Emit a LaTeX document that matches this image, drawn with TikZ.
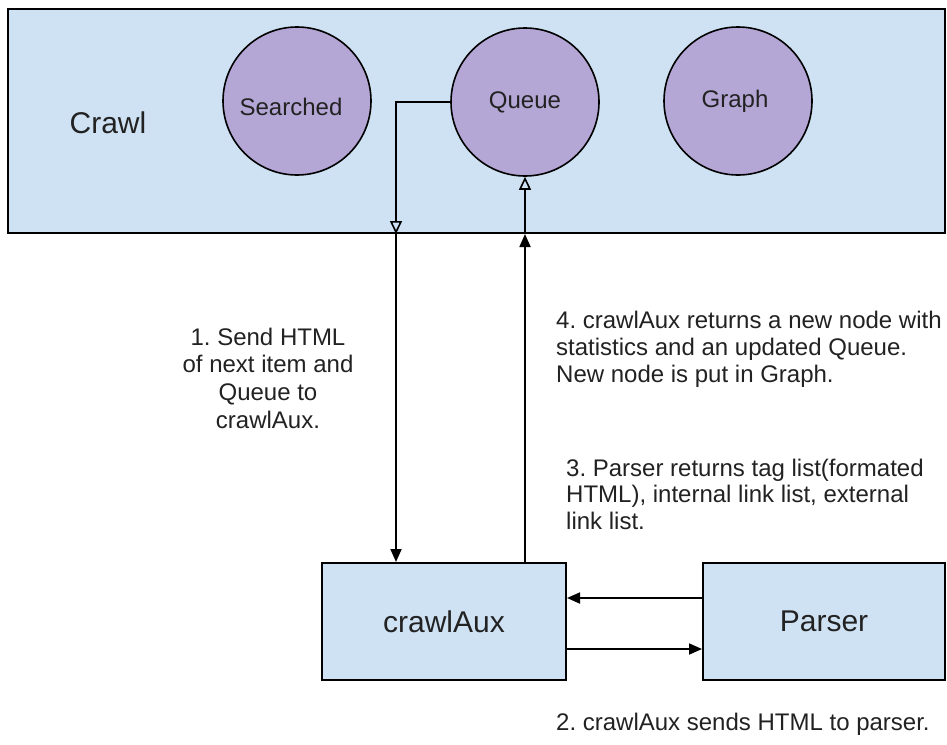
\documentclass[tikz,border=0pt]{standalone}
\usepackage{fontspec}
\setmainfont{Liberation Sans}
\usetikzlibrary{arrows.meta}
\definecolor{boxblue}{HTML}{CFE2F3}
\definecolor{circpurple}{HTML}{B4A7D6}
\definecolor{txt}{HTML}{222222}
\begin{document}
\frenchspacing
\begin{tikzpicture}[x=1pt,y=-1pt,
  bluebox/.style={draw, line width=2pt, fill=boxblue, inner sep=0pt, text=txt, font=\fontsize{30}{36}\selectfont},
  purplecirc/.style={circle, draw, line width=1.6pt, fill=circpurple, minimum size=148pt, inner sep=0pt, text=txt, font=\fontsize{24}{28}\selectfont},
  conn/.style={line width=1.8pt},
  solidtip/.style={-{Triangle[length=13pt,width=11pt]}},
  opentip/.style={-{Triangle[open,length=13pt,width=12pt,line width=1.6pt]}},
  note/.style={inner sep=0pt, text=txt, font=\fontsize{24}{27}\selectfont, align=left, anchor=north west}
]
\useasboundingbox (0,0) rectangle (947,744);
\fill[white] (0,0) rectangle (947,744);

% main boxes
\node[bluebox, minimum width=937pt, minimum height=224pt] (crawl) at (476.5,121) {};
\node[inner sep=0pt, anchor=base, text=txt, font=\fontsize{30}{36}\selectfont] (crawltext) at (108,133) {Crawl};

\node[purplecirc] (searched) at (297,101) {\raisebox{0pt}[\dimexpr\height+12pt\relax]{Searched}\hspace*{12pt}};
\node[purplecirc] (queue) at (525,102) {Queue};
\node[purplecirc] (graph) at (738,101) {\hspace*{-6pt}Graph};

\node[bluebox, minimum width=244pt, minimum height=117pt] (aux) at (444,621.5) {crawlAux};
\node[bluebox, minimum width=242pt, minimum height=117pt] (parser) at (824,621.5) {Parser};

% connector 1: Queue -> crawlAux
\coordinate (c1corner) at (396,102);
\coordinate (c1exit) at (c1corner |- crawl.south);
\coordinate (c1end) at (c1corner |- aux.north);
\draw[conn, opentip] (queue.west) -- (c1corner) -- (c1exit);
\draw[conn, solidtip] (c1exit) -- (c1end);

% connector 4: crawlAux -> Queue
\coordinate (c4exit) at (queue.south |- crawl.south);
\coordinate (c4start) at (queue.south |- aux.north);
\draw[conn, solidtip] (c4start) -- (c4exit);
\draw[conn, opentip] (c4exit) -- (queue.south);

% connectors between crawlAux and Parser
\coordinate (p3start) at (parser.west |- 0,598);
\coordinate (p3end) at (aux.east |- 0,598);
\draw[conn, solidtip] (p3start) -- (p3end);
\coordinate (p2start) at (aux.east |- 0,649);
\coordinate (p2end) at (parser.west |- 0,649);
\draw[conn, solidtip] (p2start) -- (p2end);

% labels
\node[note, align=center, anchor=north, font=\fontsize{24}{27.7}\selectfont] (lab1) at (268,327.5) {1. Send HTML\\of next item and\\Queue to\\crawlAux.};
\node[note] (lab4) at (556,310.5) {4. crawlAux returns a new node with\\statistics and an updated Queue.\\New node is put in Graph.};
\node[note, font=\fontsize{24}{26.5}\selectfont] (lab3) at (566,458.5) {3. Parser returns tag list(formated\\HTML), internal link list, external\\link list.};
\node[note] (lab2) at (556,712.5) {2. crawlAux sends HTML to parser.};
\end{tikzpicture}
\end{document}
